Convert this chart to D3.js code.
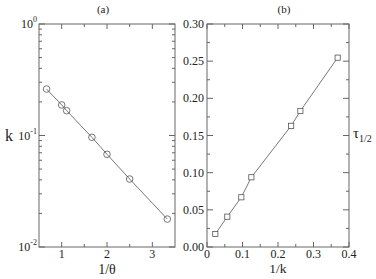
<!DOCTYPE html>
<html><head><meta charset="utf-8">
<script src="https://cdn.jsdelivr.net/npm/d3@7"></script>
<style>body{margin:0;background:#fff}svg{display:block}</style>
</head><body><svg id="c" width="376" height="279" font-family="'Liberation Serif', 'DejaVu Serif', 'Times New Roman', serif"></svg>
<script>
// Panel (a): k vs 1/theta (log y)
const invTheta = [0.667, 1.0, 1.11, 1.667, 2.0, 2.5, 3.33];
const kVals = [0.261, 0.188, 0.167, 0.0964, 0.0678, 0.0407, 0.0178];
const aXTicks = [1, 2, 3];
const aXMinor = [1.5, 2.5];
const aYTicks = [1, 0.1, 0.01];
const aYExp = ["0", "-1", "-2"];
// Panel (b): tau_1/2 vs 1/k
const invK = [0.0234, 0.0572, 0.0966, 0.125, 0.237, 0.263, 0.368];
const tauVals = [0.0175, 0.0408, 0.0669, 0.0938, 0.163, 0.183, 0.2547];
const bXTicks = [0, 0.1, 0.2, 0.3, 0.4];
const bXMinor = [0.05, 0.15, 0.25, 0.35];
const bYTicks = [0, 0.05, 0.10, 0.15, 0.20, 0.25, 0.30];
const bYMinor = [0.025, 0.075, 0.125, 0.175, 0.225, 0.275];

const svg = d3.select("#c");
const axisCol = "#666", lineCol = "#555", textCol = "#222";
const pTop = 24, pBottom = 247;

function frame(g, x0, x1) {
  g.append("rect").attr("x", x0).attr("y", pTop).attr("width", x1 - x0).attr("height", pBottom - pTop)
    .attr("fill", "none").attr("stroke", axisCol).attr("stroke-width", 1);
}
function tick(g, x1, y1, x2, y2) {
  g.append("line").attr("x1", x1).attr("y1", y1).attr("x2", x2).attr("y2", y2)
    .attr("stroke", axisCol).attr("stroke-width", 1);
}
function txt(g, x, y, size, anchor) {
  return g.append("text").attr("x", x).attr("y", y).attr("font-size", size)
    .attr("text-anchor", anchor || "start").attr("fill", textCol);
}

// ----- Panel (a)
const ax0 = 39, ax1 = 175;
const xa = d3.scaleLinear().domain([0.5, 3.5]).range([ax0, ax1]);
const ya = d3.scaleLog().domain([0.01, 1]).range([pBottom, pTop]);
const ga = svg.append("g");
frame(ga, ax0, ax1);
aXTicks.forEach(v => { const x = xa(v);
  tick(ga, x, pBottom, x, pBottom - 5); tick(ga, x, pTop, x, pTop + 5);
  txt(ga, x, 258, 12, "middle").text(v);
});
aXMinor.forEach(v => { const x = xa(v); tick(ga, x, pBottom, x, pBottom - 3); tick(ga, x, pTop, x, pTop + 3); });
aYTicks.forEach((v, i) => { const y = ya(v);
  tick(ga, ax0, y, ax0 + 6, y); tick(ga, ax1, y, ax1 - 6, y);
  const t = txt(ga, ax0 - 2, y + 4, 12, "end");
  t.append("tspan").text("10");
  t.append("tspan").attr("dy", -6).attr("font-size", 8).text(aYExp[i]);
});
[0.01, 0.1].forEach(d => { for (let m = 2; m <= 9; m++) { const y = ya(d * m);
  tick(ga, ax0, y, ax0 + 3, y); tick(ga, ax1, y, ax1 - 3, y); } });
ga.append("path").datum(d3.zip(invTheta, kVals))
  .attr("d", d3.line().x(d => xa(d[0])).y(d => ya(d[1])))
  .attr("fill", "none").attr("stroke", lineCol).attr("stroke-width", 0.8);
ga.selectAll("circle").data(d3.zip(invTheta, kVals)).join("circle")
  .attr("cx", d => xa(d[0])).attr("cy", d => ya(d[1])).attr("r", 3.3)
  .attr("fill", "none").attr("stroke", lineCol).attr("stroke-width", 0.8);
txt(ga, 103, 13, 11, "middle").text("(a)");
txt(ga, xa(2), 274, 14, "middle").text("1/θ");
txt(ga, 5, 141, 16).text("k");

// ----- Panel (b)
const bx0 = 207, bx1 = 349;
const xb = d3.scaleLinear().domain([0, 0.4]).range([bx0, bx1]);
const yb = d3.scaleLinear().domain([0, 0.30]).range([pBottom, pTop]);
const gb = svg.append("g");
frame(gb, bx0, bx1);
bXTicks.forEach(v => { const x = xb(v);
  tick(gb, x, pBottom, x, pBottom - 5); tick(gb, x, pTop, x, pTop + 5);
  txt(gb, x, 258, 12, "middle").text(v === 0 ? "0" : d3.format(".1f")(v));
});
bXMinor.forEach(v => { const x = xb(v); tick(gb, x, pBottom, x, pBottom - 3); tick(gb, x, pTop, x, pTop + 3); });
bYTicks.forEach(v => { const y = yb(v);
  tick(gb, bx0, y, bx0 + 6, y); tick(gb, bx1, y, bx1 - 6, y);
  txt(gb, bx0 - 3, y + 4, 12, "end").text(d3.format(".2f")(v));
});
bYMinor.forEach(v => { const y = yb(v); tick(gb, bx0, y, bx0 + 3, y); tick(gb, bx1, y, bx1 - 3, y); });
gb.append("path").datum(d3.zip(invK, tauVals))
  .attr("d", d3.line().x(d => xb(d[0])).y(d => yb(d[1])))
  .attr("fill", "none").attr("stroke", lineCol).attr("stroke-width", 0.8);
gb.selectAll("rect.m").data(d3.zip(invK, tauVals)).join("rect").attr("class", "m")
  .attr("x", d => xb(d[0]) - 2.6).attr("y", d => yb(d[1]) - 2.6).attr("width", 5.2).attr("height", 5.2)
  .attr("fill", "#fff").attr("stroke", lineCol).attr("stroke-width", 0.8);
txt(gb, 284, 13, 11, "middle").text("(b)");
txt(gb, xb(0.2), 272.5, 13.5, "middle").text("1/k");
const tt = txt(gb, 353, 138, 15);
tt.append("tspan").text("τ");
tt.append("tspan").attr("dy", 4).attr("font-size", 10).text("1/2");
</script></body></html>
